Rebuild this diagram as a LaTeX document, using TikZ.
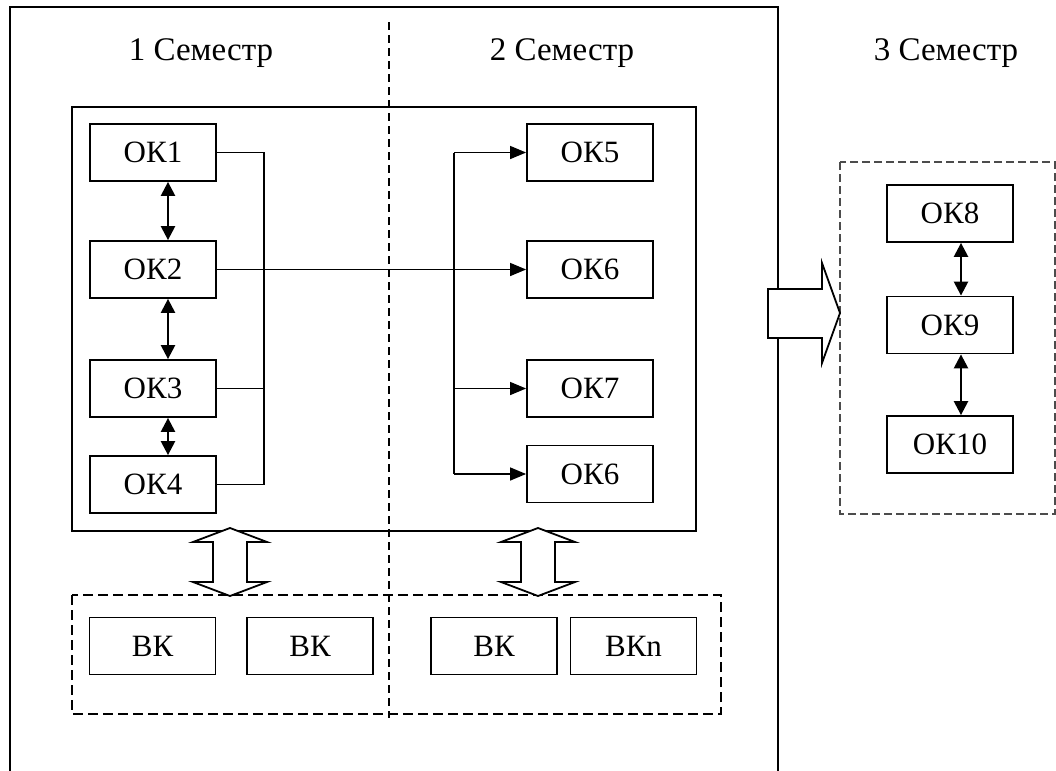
\documentclass[tikz,border=0pt]{standalone}
\usepackage{fontspec}
\setmainfont{Liberation Serif}
\usetikzlibrary{arrows.meta}

\begin{document}
\begin{tikzpicture}[x=0.5pt, y=-0.5pt, >={Triangle[length=7pt, width=7pt]}, line width=0.7pt,
        okbox/.style={draw, line width=0.9pt, minimum width=63pt, minimum height=28.5pt, inner sep=0pt, font=\fontsize{15.5}{18}\selectfont},
        semlabel/.style={inner sep=0pt, font=\fontsize{16.5}{18}\selectfont},
        twoway/.style={<->, line width=1.2pt},
        feed/.style={->, >={Triangle[length=8pt, width=6.5pt]}}]
            \useasboundingbox (0, 0) rectangle (1056, 771);

            \draw[dash pattern=on 4pt off 2.5pt] (389, 22) -- (389, 718);
            \draw[line width=1pt] (10, 771) -- (10, 7) -- (778, 7) -- (778, 771);
            \draw[line width=1pt] (72, 107) rectangle (696, 531);
            \draw[dash pattern=on 5pt off 2.5pt, line width=0.8pt] (72, 595) rectangle (721, 714);
            \draw[dash pattern=on 4pt off 2pt, draw=black!70] (840, 162) rectangle (1055, 514);

            \node[semlabel] (sem1) at (201, 53) {1 Семестр};
            \node[semlabel] (sem2) at (562, 53) {2 Семестр};
            \node[semlabel] (sem3) at (946, 53) {3 Семестр};

            \node[okbox] (ok1) at (153, 152.5) {ОК1};
            \node[okbox] (ok2) at (153, 269.5) {ОК2};
            \node[okbox] (ok3) at (153, 388.5) {ОК3};
            \node[okbox] (ok4) at (153, 484.5) {ОК4};

            \node[okbox] (ok5) at (590, 152.5) {ОК5};
            \node[okbox] (ok6) at (590, 269.5) {ОК6};
            \node[okbox] (ok7) at (590, 388.5) {ОК7};
            \node[okbox] (ok6b) at (590, 474) {ОК6};

            \node[okbox] (ok8) at (950, 213.5) {ОК8};
            \node[okbox] (ok9) at (950, 325) {ОК9};
            \node[okbox] (ok10) at (950, 444.5) {ОК10};

            \node[okbox] (vk1) at (152.5, 646) {ВК};
            \node[okbox] (vk2) at (310, 646) {ВК};
            \node[okbox] (vk3) at (494, 646) {ВК};
            \node[okbox] (vk4) at (633.5, 646) {ВКn};

            \draw[twoway] ([xshift=7.5pt]ok1.south) -- ([xshift=7.5pt]ok2.north);
            \draw[twoway] ([xshift=7.5pt]ok2.south) -- ([xshift=7.5pt]ok3.north);
            \draw[twoway] ([xshift=7.5pt]ok3.south) -- ([xshift=7.5pt]ok4.north);
            \draw[twoway] ([xshift=5.5pt]ok8.south) -- ([xshift=5.5pt]ok9.north);
            \draw[twoway] ([xshift=5.5pt]ok9.south) -- ([xshift=5.5pt]ok10.north);

            \coordinate (busl) at (264, 0);
            \coordinate (busr) at (454, 0);
            \draw (ok1.east) -- (ok1.east -| busl) -- (ok4.east -| busl) -- (ok4.east);
            \draw (ok3.east) -- (ok3.east -| busl);
            \draw[feed] (ok2.east) -- (ok6.west);
            \draw (ok5.west -| busr) -- (ok6b.west -| busr);
            \draw[feed] (ok5.west -| busr) -- (ok5.west);
            \draw[feed] (ok7.west -| busr) -- (ok7.west);
            \draw[feed] (ok6b.west -| busr) -- (ok6b.west);

            \newcommand{\hollowpipe}[1]{
                \draw[fill=white, line width=0.9pt] (#1, 528) -- (#1+37, 542) -- (#1+17, 542) -- (#1+17, 582) -- (#1+37, 582)
                    -- (#1, 596) -- (#1-37, 582) -- (#1-17, 582) -- (#1-17, 542) -- (#1-37, 542) -- cycle;
            }
            \hollowpipe{230}
            \hollowpipe{538}

            \draw[fill=white, line width=0.9pt] (768, 289) -- (822, 289) -- (822, 263) -- (840, 313) -- (822, 363) -- (822, 338) -- (768, 338) -- cycle;
        \end{tikzpicture}
\end{document}
